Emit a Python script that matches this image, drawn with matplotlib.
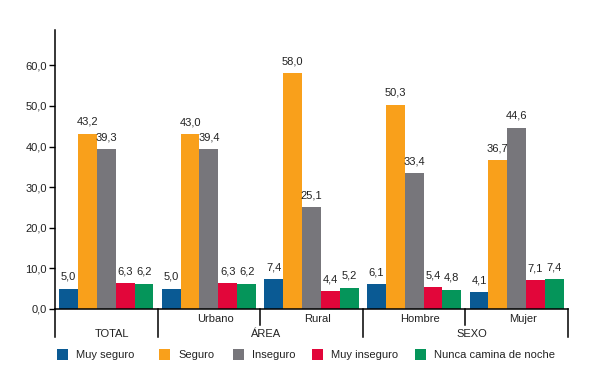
import matplotlib.pyplot as plt
import matplotlib.patches as mpatches
import numpy as np

plt.rcParams['font.family'] = ['Liberation Sans', 'DejaVu Sans']

categories = ["TOTAL", "Urbano", "Rural", "Hombre", "Mujer"]
groups = ["TOTAL", "ÁREA", "SEXO"]
series = ["Muy seguro", "Seguro", "Inseguro", "Muy inseguro", "Nunca camina de noche"]
muy_seguro = [5.0, 5.0, 7.4, 6.1, 4.1]
seguro = [43.2, 43.0, 58.0, 50.3, 36.7]
inseguro = [39.3, 39.4, 25.1, 33.4, 44.6]
muy_inseguro = [6.3, 6.3, 4.4, 5.4, 7.1]
nunca = [6.2, 6.2, 5.2, 4.8, 7.4]
yticks = [0, 10, 20, 30, 40, 50, 60]

colors = ["#0a5a94", "#f9a01b", "#77767b", "#e2063a", "#05955a"]
txt = "#222222"

def fmt(v):
    return ("%.1f" % v).replace(".", ",")

def main():
    W, H = 600, 391
    fig = plt.figure(figsize=(6, 3.91), dpi=100)
    ax = fig.add_axes([55 / W, 1 - 309 / H, 513 / W, 279 / H])
    x = np.arange(len(categories))
    w = 0.184
    data = [muy_seguro, seguro, inseguro, muy_inseguro, nunca]
    for i, vals in enumerate(data):
        pos = x + (i - 2) * w
        ax.bar(pos, vals, width=w, color=colors[i], linewidth=0)
        for p, v in zip(pos, vals):
            ax.annotate(fmt(v), (p, v), xytext=(0, 5), textcoords="offset points",
                        ha="center", va="bottom", fontsize=8, color=txt)
    ax.set_xlim(-0.5, len(categories) - 0.5)
    ax.set_ylim(0, 68.7)
    ax.set_yticks(yticks)
    ax.set_yticklabels([fmt(v) for v in yticks], fontsize=8, color=txt)
    ax.tick_params(axis="y", length=4, width=1, pad=2)
    ax.set_xticks([])
    for s in ["top", "right"]:
        ax.spines[s].set_visible(False)
    ax.spines["left"].set_linewidth(1.1)
    ax.spines["bottom"].set_linewidth(1.1)

    # category axis with two label rows
    tr = ax.get_xaxis_transform()
    for i, c in enumerate(categories):
        yy = -0.09 if i == 0 else -0.036
        ax.text(i + 0.06, yy, c, transform=tr, ha="center", va="center", fontsize=8, color=txt)
    ax.text(1.5 + 0.06, -0.09, groups[1], transform=tr, ha="center", va="center", fontsize=8, color=txt)
    ax.text(3.5 + 0.06, -0.09, groups[2], transform=tr, ha="center", va="center", fontsize=8, color=txt)
    for b in [-0.5, 0.5, 2.5, 4.5]:
        ax.plot([b, b], [0, -0.1], transform=tr, color="black", lw=1.1, clip_on=False)
    for b in [1.5, 3.5]:
        ax.plot([b, b], [0, -0.057], transform=tr, color="black", lw=1.1, clip_on=False)

    # legend
    px = [57, 159, 233, 312, 415]
    for i, name in enumerate(series):
        fig.add_artist(mpatches.Rectangle((px[i] / W, 1 - 360 / H), 11 / W, 11 / H,
                                          transform=fig.transFigure, color=colors[i], lw=0))
        fig.text((px[i] + 19) / W, 1 - 355 / H, name, ha="left", va="center", fontsize=8, color=txt)

    plt.savefig("out.png", dpi=100)

if __name__ == "__main__":
    main()
